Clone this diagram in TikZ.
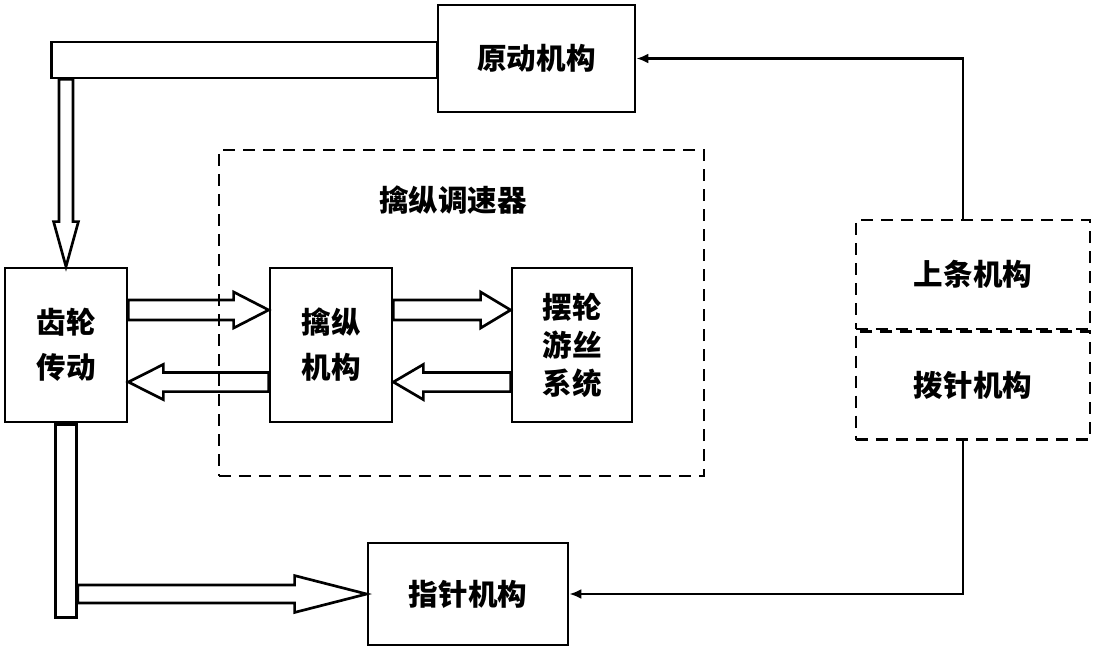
\documentclass[tikz,border=0pt]{standalone}
\usepackage{fontspec}
\newfontfamily\cjk{Noto Sans CJK SC}
\usetikzlibrary{calc,arrows.meta}
\tikzset{>={Latex[length=3mm,width=2.5mm]}}
\tikzset{ blk/.style={draw,line width=1.9pt,align=center,font=\cjk\bfseries\fontsize{21}{32}\selectfont},
  dsh/.style={blk,dash pattern=on 0.3cm off 0.2cm},
  fat/.style={draw,line width=1.9pt,line join=miter} }
\newcommand{\fatarrow}[5]{%
  \draw[fat] ($(#4)!#1!90:(#5)$) -- ($(#5)!#3!(#4)!#1!-90:(#4)$) -- ($(#5)!#3!(#4)!#2!-90:(#4)$) -- (#5)
    -- ($(#5)!#3!(#4)!#2!90:(#4)$) -- ($(#5)!#3!(#4)!#1!90:(#4)$) -- ($(#4)!#1!-90:(#5)$) -- cycle;}

\begin{document}
\begin{tikzpicture}[x=0.025cm,y=-0.025cm]
  \useasboundingbox (0,0) rectangle (1095,654);
  \node[blk,minimum width=4.925cm,minimum height=2.675cm] (src) at (536.5,58.5) {原动机构};
  \node[blk,minimum width=3.05cm,minimum height=3.85cm] (gear) at (66,345) {齿轮\\传动};
  \node[dsh,minimum width=12.125cm,minimum height=8.15cm] (reg) at (461.5,313) {};
  \node[font=\cjk\bfseries\fontsize{21}{32}\selectfont] (regname) at (453,200) {擒纵调速器};
  \node[blk,minimum width=3.05cm,minimum height=3.85cm] (esc) at (331,345) {擒纵\\机构};
  \node[blk,minimum width=3cm,minimum height=3.85cm,font=\cjk\bfseries\fontsize{21}{27}\selectfont] (bal) at (572,345) {摆轮\\游丝\\系统};
  \node[dsh,minimum width=5.85cm,minimum height=2.725cm] (wind) at (973,274.5) {上条机构};
  \node[dsh,minimum width=5.85cm,minimum height=2.7cm,anchor=north] (set) at (wind.south) {拨针机构};
  \node[blk,minimum width=5cm,minimum height=2.55cm] (hand) at (468,594) {指针机构};
  \node[fat,minimum width=9.65cm,minimum height=0.9cm,anchor=east] (bar) at (439,60) {};
  \node[fat,minimum width=0.525cm,minimum height=4.825cm,anchor=north] (shaft) at (gear.south) {};
  \coordinate (b0) at (gear.north |- bar.south);
  \coordinate (g1) at ([yshift=0.875cm]gear.east);
  \coordinate (e1) at ([yshift=0.875cm]esc.west);
  \coordinate (e2) at ([yshift=0.875cm]esc.east);
  \coordinate (w1) at ([yshift=0.875cm]bal.west);
  \coordinate (g2) at ([yshift=-0.925cm]gear.east);
  \coordinate (e3) at ([yshift=-0.925cm]esc.west);
  \coordinate (e4) at ([yshift=-0.925cm]esc.east);
  \coordinate (w2) at ([yshift=-0.925cm]bal.west);
  \coordinate (s0) at (shaft.east |- hand.west);
  \fatarrow{0.175cm}{0.31cm}{1.125cm}{b0}{gear.north}
  \fatarrow{0.25cm}{0.45cm}{0.875cm}{g1}{e1}
  \fatarrow{0.25cm}{0.45cm}{0.75cm}{e2}{w1}
  \fatarrow{0.24cm}{0.44cm}{0.875cm}{e3}{g2}
  \fatarrow{0.24cm}{0.44cm}{0.75cm}{w2}{e4}
  \fatarrow{0.225cm}{0.46cm}{1.8cm}{s0}{hand.west}
  \draw[->,line width=1.9pt] ([xshift=-0.25cm]wind.north) |- (src.east);
  \draw[->,line width=1.9pt] ([xshift=-0.25cm]set.south) |- (hand.east);
\end{tikzpicture}
\end{document}
